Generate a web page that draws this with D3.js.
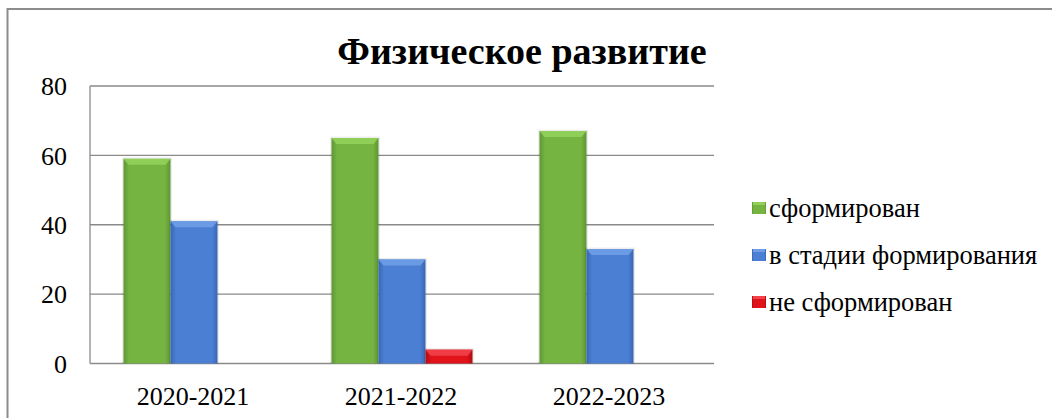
<!DOCTYPE html>
<html>
<head>
<meta charset="utf-8">
<script src="https://d3js.org/d3.v7.min.js"></script>
<style>
  html, body { margin: 0; padding: 0; background: #fff; }
  svg { display: block; }
</style>
</head>
<body>
<script>
// chart data
const years = ["2020-2021", "2021-2022", "2022-2023"];
const seriesNames = ["сформирован", "в стадии формирования", "не сформирован"];
const formed = [59, 65, 67];
const forming = [41, 30, 33];
const notFormed = [0, 4, 0];
const yTicks = [0, 20, 40, 60, 80];

const values = [formed, forming, notFormed];
const colors = [
  {base: "#76b442", light: "#92d05a", dark: "#5d9634"},
  {base: "#4a7fd4", light: "#6f9ee6", dark: "#3a66b3"},
  {base: "#e0121a", light: "#f2434a", dark: "#b00d12"}
];

const serif = "'Liberation Serif'";

const width = 1052, height = 418;
const margin = {top: 86, left: 90, right: 338, bottom: 54.5};

const svg = d3.select("body").append("svg")
  .attr("width", width)
  .attr("height", height);

const defs = svg.append("defs");
colors.forEach((c, i) => {
  const g = defs.append("linearGradient")
    .attr("id", "grad" + i)
    .attr("x1", "0").attr("x2", "1").attr("y1", "0").attr("y2", "0");
  g.append("stop").attr("offset", "0%").attr("stop-color", c.dark);
  g.append("stop").attr("offset", "12%").attr("stop-color", c.base);
  g.append("stop").attr("offset", "88%").attr("stop-color", c.base);
  g.append("stop").attr("offset", "100%").attr("stop-color", c.dark);
});

// outer frame (runs off the right and bottom)
svg.append("rect")
  .attr("x", 7.5).attr("y", 9)
  .attr("width", width + 20).attr("height", height + 20)
  .attr("fill", "none")
  .attr("stroke", "#8c8c8c")
  .attr("stroke-width", 2);

const x0 = d3.scaleBand()
  .domain(years)
  .range([margin.left, width - margin.right])
  .paddingInner(0.322)
  .paddingOuter(0.161);

const x1 = d3.scaleBand()
  .domain(d3.range(seriesNames.length))
  .range([0, x0.bandwidth()]);

const y = d3.scaleLinear()
  .domain([0, 80])
  .range([height - margin.bottom, margin.top]);

// gridlines
svg.append("g")
  .selectAll("line")
  .data(yTicks)
  .join("line")
  .attr("x1", margin.left)
  .attr("x2", width - margin.right)
  .attr("y1", d => y(d))
  .attr("y2", d => y(d))
  .attr("stroke", "#8a8a8a")
  .attr("stroke-width", 1.3);

// left axis line
svg.append("line")
  .attr("x1", margin.left).attr("x2", margin.left)
  .attr("y1", y(80)).attr("y2", y(0))
  .attr("stroke", "#8a8a8a")
  .attr("stroke-width", 1.3);

// y tick labels
svg.append("g")
  .selectAll("text")
  .data(yTicks)
  .join("text")
  .attr("x", 67)
  .attr("y", d => y(d))
  .attr("dy", "0.36em")
  .attr("text-anchor", "end")
  .style("font-family", serif)
  .style("font-size", "26px")
  .text(d => d);

// x labels
svg.append("g")
  .selectAll("text")
  .data(years)
  .join("text")
  .attr("x", d => x0(d) + x0.bandwidth() / 2 - 1)
  .attr("y", 405)
  .attr("text-anchor", "middle")
  .style("font-family", serif)
  .style("font-size", "26px")
  .text(d => d);

// bars
const groups = svg.append("g")
  .selectAll("g")
  .data(years)
  .join("g")
  .attr("transform", d => `translate(${x0(d)},0)`);

groups.selectAll("g.bar")
  .data((d, i) => values.map((s, k) => ({k: k, v: s[i]})).filter(e => e.v > 0))
  .join("g")
  .attr("class", "bar")
  .each(function(e) {
    const g = d3.select(this);
    const bx = x1(e.k), bw = x1.bandwidth();
    const by = y(e.v), bh = y(0) - y(e.v);
    // soft shadow
    g.append("rect")
      .attr("x", bx - 1.5).attr("y", by - 1.5)
      .attr("width", bw + 3).attr("height", bh + 1.5)
      .attr("fill", "#000").attr("opacity", 0.07);
    g.append("rect")
      .attr("x", bx).attr("y", by)
      .attr("width", bw).attr("height", bh)
      .attr("fill", `url(#grad${e.k})`);
    // top bevel highlight
    const bev = Math.min(6, bh / 2);
    g.append("path")
      .attr("d", `M${bx},${by} L${bx + bw},${by} L${bx + bw - 5},${by + bev} L${bx + 5},${by + bev} Z`)
      .attr("fill", colors[e.k].light)
      .attr("opacity", 0.9);
  });

// title
svg.append("text")
  .attr("x", 522)
  .attr("y", 64)
  .attr("text-anchor", "middle")
  .style("font-family", serif)
  .style("font-size", "38px")
  .style("font-weight", "bold")
  .text("Физическое развитие");

// legend
const legend = svg.append("g")
  .selectAll("g")
  .data(seriesNames)
  .join("g")
  .attr("transform", (d, i) => `translate(752,${208 + i * 47})`);

legend.append("rect")
  .attr("x", 0).attr("y", -6)
  .attr("width", 14).attr("height", 12)
  .attr("fill", (d, i) => `url(#grad${i})`);
legend.append("rect")
  .attr("x", 1).attr("y", -6)
  .attr("width", 12).attr("height", 3)
  .attr("fill", (d, i) => colors[i].light);

legend.append("text")
  .attr("x", 17)
  .attr("y", 0)
  .attr("dy", "0.33em")
  .style("font-family", serif)
  .style("font-size", "26.5px")
  .text(d => d);
</script>
</body>
</html>
